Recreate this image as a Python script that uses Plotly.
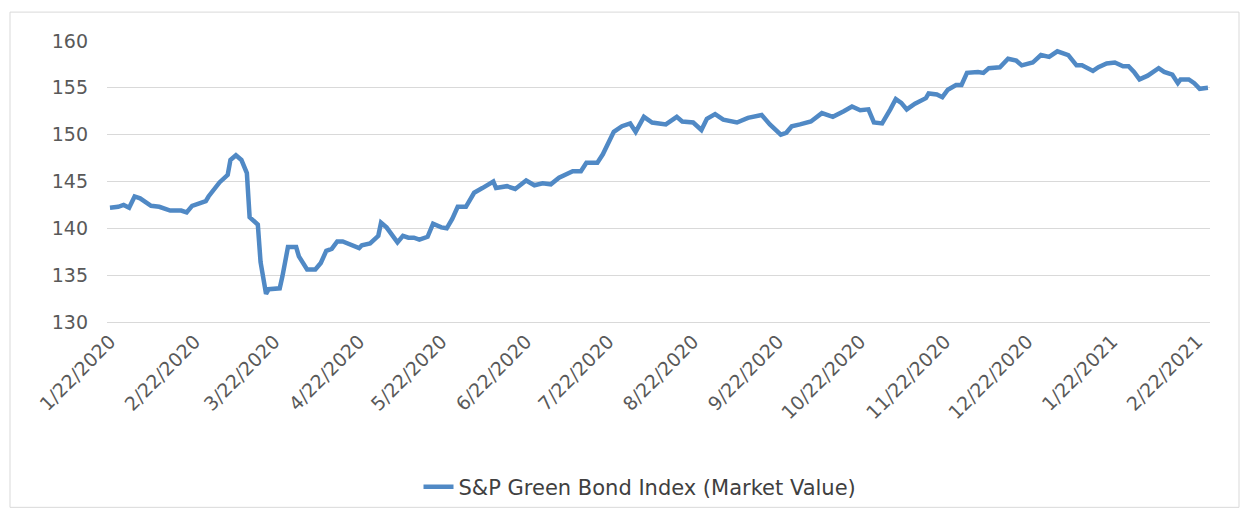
import plotly.graph_objects as go

series_name = "S&P Green Bond Index (Market Value)"

dates = [
    "2020-01-22", "2020-01-25", "2020-01-27", "2020-01-29", "2020-01-31", "2020-02-02",
    "2020-02-06", "2020-02-09", "2020-02-13", "2020-02-17", "2020-02-19", "2020-02-21",
    "2020-02-26", "2020-02-27", "2020-03-02", "2020-03-05", "2020-03-06", "2020-03-08",
    "2020-03-10", "2020-03-12", "2020-03-13", "2020-03-16", "2020-03-17", "2020-03-19",
    "2020-03-20", "2020-03-24", "2020-03-25", "2020-03-27", "2020-03-30", "2020-03-31",
    "2020-04-03", "2020-04-06", "2020-04-08", "2020-04-10", "2020-04-12", "2020-04-14",
    "2020-04-16", "2020-04-19", "2020-04-22", "2020-04-23", "2020-04-26", "2020-04-29",
    "2020-04-30", "2020-05-02", "2020-05-06", "2020-05-08", "2020-05-10", "2020-05-12",
    "2020-05-14", "2020-05-17", "2020-05-19", "2020-05-22", "2020-05-24", "2020-05-26",
    "2020-05-28", "2020-05-31", "2020-06-03", "2020-06-06", "2020-06-10", "2020-06-11",
    "2020-06-15", "2020-06-18", "2020-06-22", "2020-06-25", "2020-06-28", "2020-07-01",
    "2020-07-04", "2020-07-09", "2020-07-12", "2020-07-14", "2020-07-18", "2020-07-20",
    "2020-07-22", "2020-07-24", "2020-07-27", "2020-07-30", "2020-08-01", "2020-08-04",
    "2020-08-07", "2020-08-12", "2020-08-16", "2020-08-18", "2020-08-22", "2020-08-25",
    "2020-08-27", "2020-08-30", "2020-09-02", "2020-09-07", "2020-09-11", "2020-09-16",
    "2020-09-19", "2020-09-23", "2020-09-25", "2020-09-27", "2020-09-30", "2020-10-04",
    "2020-10-08", "2020-10-12", "2020-10-16", "2020-10-19", "2020-10-22", "2020-10-25",
    "2020-10-27", "2020-10-30", "2020-11-02", "2020-11-04", "2020-11-06", "2020-11-08",
    "2020-11-11", "2020-11-15", "2020-11-16", "2020-11-19", "2020-11-21", "2020-11-23",
    "2020-11-26", "2020-11-28", "2020-11-30", "2020-12-04", "2020-12-06", "2020-12-08",
    "2020-12-12", "2020-12-15", "2020-12-18", "2020-12-20", "2020-12-24", "2020-12-27",
    "2020-12-30", "2021-01-02", "2021-01-06", "2021-01-09", "2021-01-11", "2021-01-15",
    "2021-01-17", "2021-01-20", "2021-01-23", "2021-01-26", "2021-01-28", "2021-01-30",
    "2021-02-01", "2021-02-04", "2021-02-08", "2021-02-10", "2021-02-13", "2021-02-15",
    "2021-02-16", "2021-02-19", "2021-02-21", "2021-02-23", "2021-02-26",
]

values = [
    142.2, 142.3, 142.5, 142.2, 143.4, 143.2,
    142.4, 142.3, 141.9, 141.9, 141.7, 142.4,
    142.9, 143.4, 144.9, 145.7, 147.3, 147.8,
    147.3, 145.9, 141.2, 140.4, 136.4, 133.0,
    133.5, 133.6, 134.9, 138.0, 138.0, 137.0,
    135.6, 135.6, 136.3, 137.6, 137.8, 138.6,
    138.6, 138.3, 137.9, 138.2, 138.4, 139.2,
    140.6, 140.1, 138.5, 139.2, 139.0, 139.0,
    138.8, 139.1, 140.5, 140.1, 140.0, 141.0,
    142.3, 142.3, 143.8, 144.3, 145.0, 144.3,
    144.5, 144.2, 145.1, 144.6, 144.8, 144.7,
    145.4, 146.1, 146.1, 147.0, 147.0, 147.9,
    149.1, 150.3, 150.9, 151.2, 150.3, 151.9,
    151.3, 151.1, 151.9, 151.4, 151.3, 150.5,
    151.7, 152.2, 151.6, 151.3, 151.8, 152.1,
    151.1, 150.0, 150.2, 150.9, 151.1, 151.4,
    152.3, 151.9, 152.5, 153.0, 152.6, 152.7,
    151.3, 151.2, 152.7, 153.8, 153.4, 152.7,
    153.3, 153.9, 154.4, 154.3, 154.0, 154.8,
    155.3, 155.3, 156.6, 156.7, 156.6, 157.1,
    157.2, 158.1, 157.9, 157.4, 157.7, 158.5,
    158.3, 158.9, 158.5, 157.4, 157.4, 156.8,
    157.2, 157.6, 157.7, 157.3, 157.3, 156.7,
    155.9, 156.3, 157.1, 156.7, 156.4, 155.5,
    155.9, 155.9, 155.5, 154.9, 155.0,
]

tick_dates = [
    "2020-01-22", "2020-02-22", "2020-03-22", "2020-04-22", "2020-05-22", "2020-06-22",
    "2020-07-22", "2020-08-22", "2020-09-22", "2020-10-22", "2020-11-22", "2020-12-22",
    "2021-01-22", "2021-02-22",
]
tick_labels = [
    "1/22/2020", "2/22/2020", "3/22/2020", "4/22/2020", "5/22/2020", "6/22/2020",
    "7/22/2020", "8/22/2020", "9/22/2020", "10/22/2020", "11/22/2020", "12/22/2020",
    "1/22/2021", "2/22/2021",
]
y_ticks = [130, 135, 140, 145, 150, 155, 160]

FONT = "DejaVu Sans"
TXT = "#595959"
GRID = "#d9d9d9"

# plot-area geometry (pixels)
L, R, T, B = 107, 35, 41, 195
W, H = 1245, 518
pw, ph = W - L - R, H - T - B

fig = go.Figure()
fig.add_trace(go.Scatter(
    x=dates, y=values, mode="lines", name=series_name,
    line=dict(color="#5089C5", width=4.5),
))

def px_to_paper_x(px):
    return (px - L) / pw

def px_to_paper_y(py):
    return (H - B - py) / ph

fig.update_layout(
    width=W, height=H,
    margin=dict(l=L, r=R, t=T, b=B),
    paper_bgcolor="white", plot_bgcolor="white",
    font=dict(family=FONT, color=TXT, size=18),
    showlegend=True,
    legend=dict(
        orientation="h", x=px_to_paper_x(640), y=px_to_paper_y(487),
        xanchor="center", yanchor="middle",
        font=dict(family=FONT, size=21, color="#404040"),
        bgcolor="rgba(0,0,0,0)",
    ),
    xaxis=dict(
        type="date",
        range=["2020-01-20 22:00", "2021-02-26 18:00"],
        tickvals=tick_dates, ticktext=tick_labels,
        tickangle=-45, showgrid=False, zeroline=False,
        showline=True, linecolor=GRID, linewidth=1,
        ticks="", tickfont=dict(family=FONT, size=19, color=TXT),
    ),
    yaxis=dict(
        range=[130, 160], tickvals=y_ticks,
        showgrid=True, gridcolor=GRID, gridwidth=1,
        zeroline=False, showline=False, ticks="",
        ticklabelstandoff=18,
        tickfont=dict(family=FONT, size=19, color=TXT),
    ),
    shapes=[dict(
        type="rect", xref="paper", yref="paper",
        x0=px_to_paper_x(10), x1=px_to_paper_x(1239),
        y0=px_to_paper_y(509), y1=px_to_paper_y(12),
        line=dict(color=GRID, width=1), fillcolor="rgba(0,0,0,0)", layer="below",
    )],
)

fig.write_html("out.html")
